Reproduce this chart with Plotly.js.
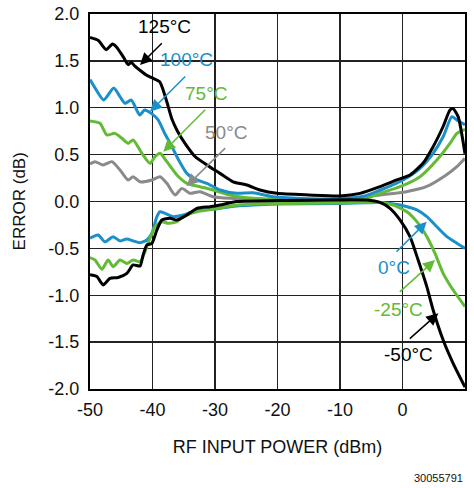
<!DOCTYPE html>
<html>
<head>
<meta charset="utf-8">
<script src="https://cdn.plot.ly/plotly-3.0.1.min.js"></script>
<style>
  html, body { margin: 0; padding: 0; background: #fff; }
  #chart { width: 474px; height: 488px; }
</style>
</head>
<body>
<div id="chart"></div>
<script>
// ---- Data ----
const x125 = [-50, -48.7, -47.4, -46.4, -45.8, -44.7, -43.9, -43.4, -42.9, -42.0, -41.0, -39.9, -38.85, -38.3, -37.6, -36.9, -36.0, -34.8, -33.2, -31.3, -29.2, -27.1, -24.9, -22.8, -20.1, -15, -10, -6.8, -3.6, -0.9, 1.2, 3.3, 4.9, 6.5, 7.6, 8.1, 8.9, 10];
const y125 = [1.75, 1.72, 1.62, 1.68, 1.65, 1.545, 1.46, 1.485, 1.45, 1.40, 1.35, 1.314, 1.278, 1.19, 1.04, 0.88, 0.75, 0.62, 0.48, 0.39, 0.30, 0.21, 0.176, 0.123, 0.087, 0.07, 0.06, 0.087, 0.158, 0.23, 0.283, 0.41, 0.585, 0.80, 0.976, 0.99, 0.905, 0.51];

const x100 = [-50, -49.0, -47.8, -46.2, -45.2, -44.4, -43.4, -42.05, -41.25, -40.2, -39.1, -38.0, -37.0, -36.1, -34.5, -32.9, -31.3, -29.2, -26.5, -23.9, -20.7, -15, -10, -6, -3.6, 0.1, 2.8, 4.9, 6.5, 7.9, 8.7, 10];
const y100 = [1.30, 1.19, 1.083, 1.21, 1.118, 1.047, 1.083, 0.923, 0.976, 0.94, 0.87, 0.72, 0.60, 0.478, 0.30, 0.23, 0.194, 0.123, 0.087, 0.094, 0.05, 0.03, 0.03, 0.06, 0.12, 0.23, 0.354, 0.514, 0.69, 0.905, 0.87, 0.82];

const x75 = [-50, -48.4, -47.3, -46, -44.9, -43.9, -43.1, -41.7, -40.4, -39.6, -38.8, -37.7, -36.1, -34.5, -32.4, -30.3, -27.6, -23.9, -15, -6, -3.6, -0.4, 2.8, 5.5, 7.6, 8.7, 10];
const y75 = [0.86, 0.834, 0.71, 0.727, 0.674, 0.62, 0.656, 0.514, 0.407, 0.478, 0.514, 0.425, 0.283, 0.194, 0.158, 0.123, 0.069, 0.034, 0.02, 0.03, 0.087, 0.158, 0.265, 0.443, 0.62, 0.727, 0.77];

const x50 = [-50, -49.2, -47.9, -46.5, -45.2, -43.9, -43.1, -42, -40.1, -38.8, -37.7, -36.4, -35.3, -34, -32.4, -30.3, -27.6, -20, -10, -3.6, 0.6, 3.8, 7.0, 8.7, 10];
const y50 = [0.40, 0.425, 0.39, 0.425, 0.336, 0.23, 0.265, 0.21, 0.23, 0.265, 0.194, 0.069, 0.14, 0.087, 0.105, 0.051, 0.034, 0.02, 0.02, 0.07, 0.105, 0.158, 0.283, 0.371, 0.46];

const x0 = [-50, -48.7, -47.6, -46.3, -45.2, -44.1, -43.1, -42, -40.9, -40.1, -39.3, -38.8, -38, -36.7, -35.1, -34, -32.4, -30.3, -27.6, -23.9, -20.1, -10, -3.6, -0.4, 2.3, 3.9, 5.5, 7.1, 8.7, 10];
const y0 = [-0.39, -0.357, -0.43, -0.375, -0.42, -0.40, -0.42, -0.44, -0.41, -0.34, -0.162, -0.109, -0.126, -0.162, -0.144, -0.12, -0.09, -0.083, -0.055, -0.037, -0.027, -0.02, -0.01, -0.037, -0.09, -0.162, -0.27, -0.375, -0.446, -0.5];

const xm25 = [-50, -49.2, -48.1, -47.1, -46.3, -45.2, -44.1, -43.1, -42, -41.2, -40.7, -39.6, -38.5, -37.5, -36.1, -35.1, -32.9, -30.3, -27.6, -23.9, -10, -3.6, -1.5, 0.7, 2.3, 3.9, 5.2, 6.5, 8.1, 10];
const ym25 = [-0.60, -0.624, -0.723, -0.624, -0.695, -0.624, -0.66, -0.624, -0.642, -0.535, -0.446, -0.27, -0.215, -0.233, -0.215, -0.162, -0.109, -0.083, -0.048, -0.027, -0.015, -0.01, -0.037, -0.109, -0.215, -0.375, -0.553, -0.766, -0.944, -1.12];

const xm50 = [-50, -48.9, -47.9, -46.8, -45.5, -44.1, -43.1, -42, -41.5, -40.9, -40.1, -39.3, -38.5, -37.2, -36.1, -34.5, -32.9, -30.8, -29.2, -26.5, -20, -5.7, -3.6, -2, -0.4, 1.2, 2.5, 3.9, 4.9, 6.5, 8.1, 10];
const ym50 = [-0.78, -0.80, -0.89, -0.82, -0.81, -0.766, -0.677, -0.688, -0.57, -0.464, -0.446, -0.304, -0.197, -0.179, -0.197, -0.144, -0.073, -0.055, -0.037, 0.0, 0.01, 0.016, -0.01, -0.073, -0.197, -0.375, -0.624, -0.91, -1.157, -1.477, -1.726, -1.98];

const seriesNames = ['50°C', '75°C', '100°C', '0°C', '-25°C', '125°C', '-50°C'];
const xTickVals = [-50, -40, -30, -20, -10, 0, 10];
const yTickVals = [-2, -1.5, -1, -0.5, 0, 0.5, 1, 1.5, 2];
const xTitle = 'RF INPUT POWER (dBm)';
const yTitle = 'ERROR (dB)';
const footer = '30055791';

// ---- Styles ----
const BLACK = '#000000', BLUE = '#1a8fca', GREEN = '#62bb35', GRAY = '#8a8a8a';
const FONT = 'Liberation Sans, Arial, sans-serif';

function tr(x, y, name, color) {
  return { x: x, y: y, name: name, type: 'scatter', mode: 'lines',
           line: { color: color, width: 3, shape: 'spline', smoothing: 0.6 },
           hoverinfo: 'skip' };
}

const data = [
  tr(x50, y50, seriesNames[0], GRAY),
  tr(x75, y75, seriesNames[1], GREEN),
  tr(x100, y100, seriesNames[2], BLUE),
  tr(x0, y0, seriesNames[3], BLUE),
  tr(xm25, ym25, seriesNames[4], GREEN),
  tr(x125, y125, seriesNames[5], BLACK),
  tr(xm50, ym50, seriesNames[6], BLACK)
];

function label(text, x, y, color) {
  return { text: text, x: x, y: y, xref: 'x', yref: 'y', showarrow: false,
           font: { family: FONT, size: 19, color: color } };
}
function arrow(x, y, ax, ay, color) {
  return { text: '', x: x, y: y, ax: ax, ay: ay, xref: 'x', yref: 'y', axref: 'x', ayref: 'y',
           showarrow: true, arrowhead: 2, arrowsize: 1.6, arrowwidth: 1.5, arrowcolor: color, standoff: 0, startstandoff: 0 };
}

const annotations = [
  label('125°C', -38.16, 1.872, BLACK), arrow(-42.0, 1.456, -38.27, 1.705, BLACK),
  label('100°C', -34.64, 1.52, BLUE),   arrow(-40.4, 0.958, -34.53, 1.349, BLUE),
  label('75°C', -31.44, 1.157, GREEN),  arrow(-38.27, 0.531, -31.33, 0.994, GREEN),
  label('50°C', -28.24, 0.741, GRAY),   arrow(-34.53, 0.165, -28.13, 0.585, GRAY),
  label('0°C', -1.36, -0.699, BLUE),    arrow(3.87, -0.215, -1.2, -0.553, BLUE),
  label('-25°C', -0.72, -1.157, GREEN), arrow(5.2, -0.624, -0.67, -0.979, GREEN),
  label('-50°C', 0.88, -1.637, BLACK),  arrow(5.73, -1.193, 0.93, -1.477, BLACK),
  // y-axis title (placed as annotation so it sits where the reference has it)
  { text: yTitle, xref: 'paper', yref: 'paper', x: -0.187, y: 0.5, xanchor: 'center', yanchor: 'middle',
    textangle: -90, showarrow: false, font: { family: FONT, size: 17, color: '#111' } },
  { text: footer, xref: 'paper', yref: 'paper', x: 1.0, y: -0.238, xanchor: 'right', yanchor: 'middle',
    showarrow: false, font: { family: FONT, size: 11, color: '#111' } }
];

const layout = {
  width: 474, height: 488,
  margin: { l: 90, r: 9, t: 14, b: 99 },
  paper_bgcolor: '#ffffff', plot_bgcolor: '#ffffff',
  showlegend: false,
  font: { family: FONT, color: '#111' },
  xaxis: {
    range: [-50, 10], tickvals: xTickVals, ticktext: xTickVals.map(String),
    showgrid: true, gridcolor: '#222', gridwidth: 1.3, zeroline: false,
    showline: true, linecolor: '#000', linewidth: 2, mirror: true,
    ticks: '', ticklabelstandoff: 3,
    tickfont: { family: FONT, size: 18, color: '#111' },
    title: { text: xTitle, font: { family: FONT, size: 18, color: '#111' }, standoff: 22 },
    fixedrange: true
  },
  yaxis: {
    range: [-2, 2], tickvals: yTickVals, ticktext: yTickVals.map(v => v.toFixed(1)),
    showgrid: true, gridcolor: '#222', gridwidth: 1.3, zeroline: false,
    showline: true, linecolor: '#000', linewidth: 2, mirror: true,
    ticks: '', ticklabelstandoff: 5,
    tickfont: { family: FONT, size: 18, color: '#111' },
    title: { text: '' },
    fixedrange: true
  },
  annotations: annotations
};

Plotly.newPlot('chart', data, layout, { staticPlot: true, displayModeBar: false });
</script>
</body>
</html>
